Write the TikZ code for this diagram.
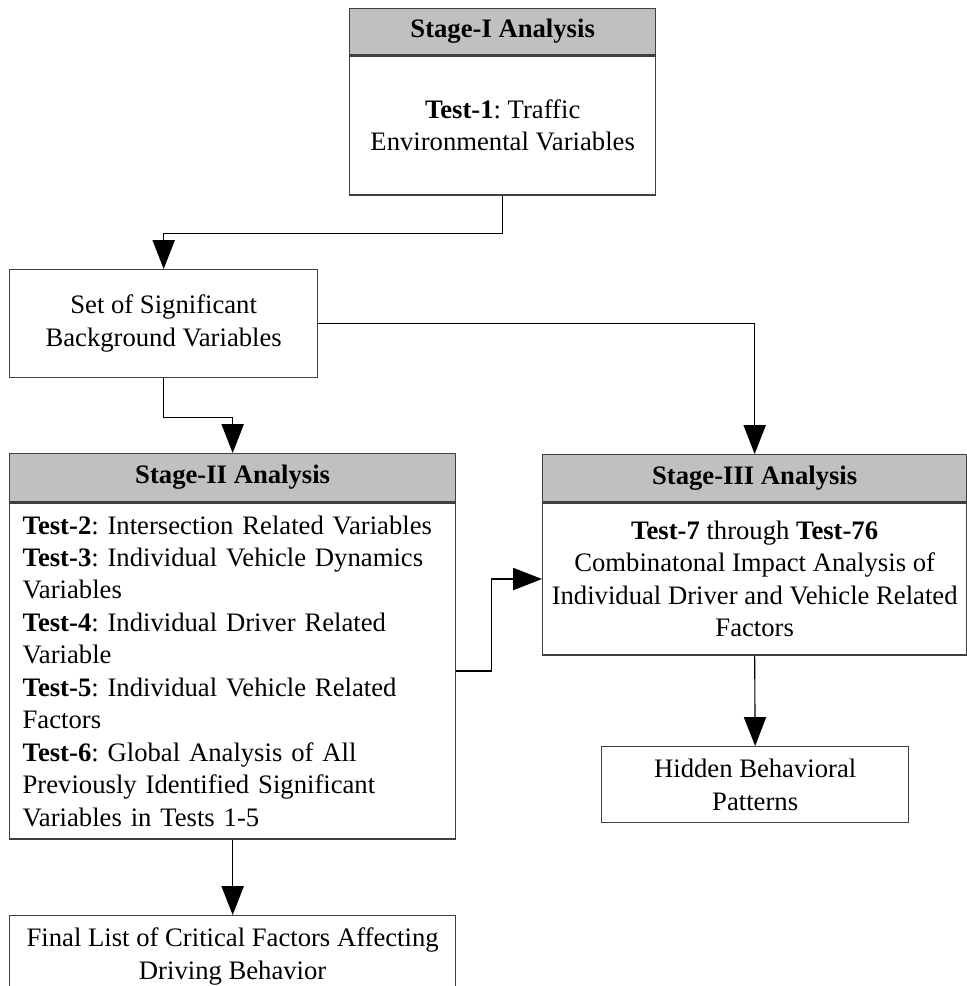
\documentclass[tikz,border=0pt]{standalone}
\usepackage{fontspec}
\setmainfont{Liberation Serif}
\usepackage{tikz}
\usetikzlibrary{arrows.meta, positioning, calc}
\frenchspacing
\definecolor{boxline}{RGB}{64,64,64}
\definecolor{hdrgray}{RGB}{192,192,192}
\tikzset{
  hdrbox/.style={rectangle, draw=boxline, fill=hdrgray, line width=0.6pt,
    font=\fontsize{12}{14.6}\selectfont\bfseries, inner sep=0pt, align=center},
  bodybox/.style={rectangle, draw=boxline, fill=white, line width=0.6pt,
    font=\fontsize{12}{14.6}\selectfont, inner sep=0pt, align=center},
  arrow/.style={-{Triangle[length=13pt, width=10pt]}, line width=0.5pt, color=black}
}

\begin{document}
\begin{tikzpicture}[x=0.45pt, y=-0.45pt]
  \useasboundingbox (0,0) rectangle (967,986);

  % Stage I
  \node[hdrbox, anchor=north west, minimum width=137.7pt, minimum height=20.7pt] (s1head) at (349,8) {Stage-I Analysis};
  \node[bodybox, anchor=north, minimum width=137.7pt, minimum height=62.55pt] (s1body) at (s1head.south)
    {\textbf{Test-1}: Traffic\\Environmental Variables};

  % background variables
  \node[bodybox, anchor=north west, minimum width=138.6pt, minimum height=48.6pt] (setvars) at (9,269)
    {Set of Significant\\Background Variables};

  % Stage II
  \node[hdrbox, anchor=north west, minimum width=200.7pt, minimum height=21.6pt] (s2head) at (9,453) {Stage-II Analysis};
  \node[bodybox, anchor=north, minimum width=200.7pt, minimum height=151.2pt, align=left, text width=189pt] (s2body) at (s2head.south)
    {\textbf{Test-2}: Intersection Related Variables\\
     \textbf{Test-3}: Individual Vehicle Dynamics\\
     Variables\\
     \textbf{Test-4}: Individual Driver Related\\
     Variable\\
     \textbf{Test-5}: Individual Vehicle Related\\
     Factors\\
     \textbf{Test-6}: Global Analysis of All\\
     Previously Identified Significant\\
     Variables in Tests 1-5};

  % Stage III
  \node[hdrbox, anchor=north west, minimum width=190.8pt, minimum height=21.15pt] (s3head) at (542,454) {Stage-III Analysis};
  \node[bodybox, anchor=north, minimum width=190.8pt, minimum height=68.4pt] (s3body) at (s3head.south)
    {\textbf{Test-7} through \textbf{Test-76}\\
     Combinatonal Impact Analysis of\\
     Individual Driver and Vehicle Related\\
     Factors};

  % outcomes
  \node[bodybox, anchor=north west, minimum width=138.15pt, minimum height=34.2pt] (hidden) at (601,746)
    {Hidden Behavioral\\Patterns};
  \node[bodybox, anchor=north west, minimum width=200.7pt, minimum height=36.9pt] (final) at (9,915)
    {Final List of Critical Factors Affecting\\Driving Behavior};

  % connectors
  \draw[arrow] (s1body.south) -- ++(0,38) -| (setvars.north);
  \draw[arrow] (setvars.south) -- ++(0,39) -| (s2head.north);
  \draw[arrow] (setvars.east) -| (s3head.north);
  \draw[arrow] (s2body.east) -- ++(35,0) |- (s3body.west);
  \draw[arrow] (s3body.south) -- (hidden.north);
  \draw[arrow] (s2body.south) -- (final.north);
\end{tikzpicture}
\end{document}
